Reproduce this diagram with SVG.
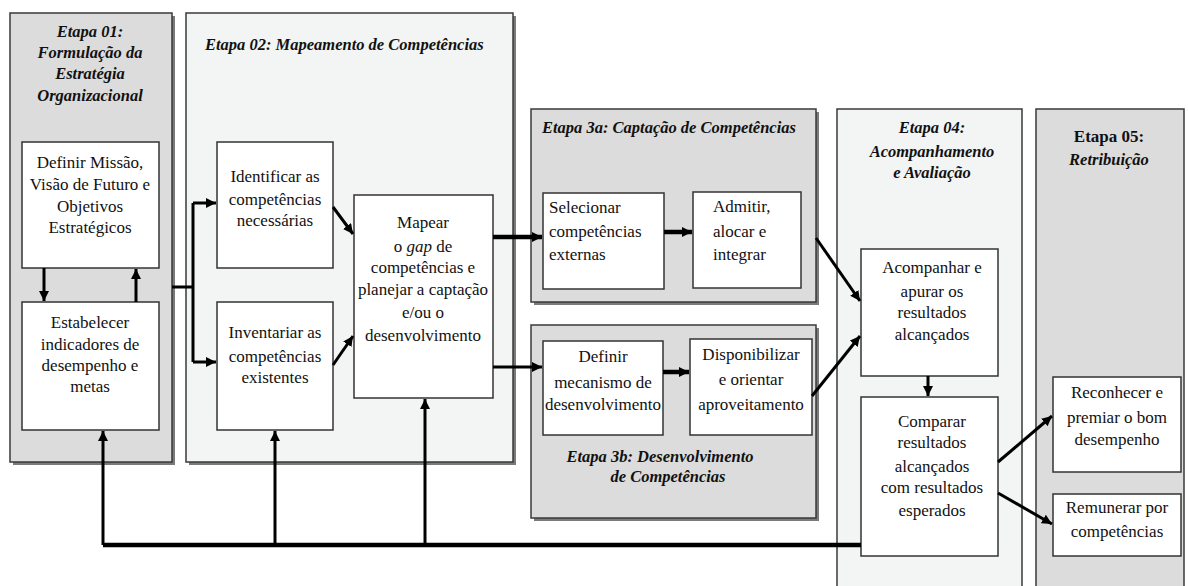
<svg xmlns="http://www.w3.org/2000/svg" width="1188" height="586" viewBox="0 0 1188 586">
<style>
.pd{fill:#dcdcdc;stroke:#3a3a3a;stroke-width:1.5}
.pl{fill:#f3f4f4;stroke:#3a3a3a;stroke-width:1.5}
.sh{fill:#7a7a7a}
.bx{fill:#ffffff;stroke:#333;stroke-width:1.5}
text{font-family:'Liberation Serif','Times New Roman',Times,serif;fill:#111}
.t{font-size:17px;text-anchor:middle}
.tl{font-size:17px}
.h{font-size:16.5px;font-weight:bold;font-style:italic;text-anchor:middle}
.hl{font-size:16.5px;font-weight:bold;font-style:italic}
.c{fill:none;stroke:#000;stroke-width:3}
.ck{fill:none;stroke:#000;stroke-width:4.5}
</style>
<defs>
<marker id="ah" markerUnits="userSpaceOnUse" markerWidth="11" markerHeight="11" refX="10" refY="5" orient="auto">
<path d="M0,0 L10,5 L0,10 z" fill="#000"/>
</marker>
</defs>
<rect width="1188" height="586" fill="#fff"/>

<g id="stage1">
<rect class="sh" x="13" y="16" width="162" height="449"/>
<rect class="pd" x="10" y="13" width="162" height="449"/>
<text class="h" x="90" y="37">Etapa 01:</text>
<text class="h" x="90" y="58">Formulação da</text>
<text class="h" x="90" y="79">Estratégia</text>
<text class="h" x="90" y="101">Organizacional</text>
</g>
<g id="definir-missao">
<rect class="bx" x="22" y="142" width="137" height="126"/>
<text class="t" x="90" y="168">Definir Missão,</text>
<text class="t" x="90" y="190">Visão de Futuro e</text>
<text class="t" x="90" y="212">Objetivos</text>
<text class="t" x="90" y="233">Estratégicos</text>
</g>
<g id="estabelecer">
<rect class="bx" x="22" y="302" width="137" height="128"/>
<text class="t" x="90" y="328">Estabelecer</text>
<text class="t" x="90" y="350">indicadores de</text>
<text class="t" x="90" y="371">desempenho e</text>
<text class="t" x="90" y="392">metas</text>
</g>

<g id="stage2">
<rect class="sh" x="189" y="16" width="327" height="449"/>
<rect class="pl" x="186" y="13" width="327" height="449"/>
<text class="hl" x="205" y="50">Etapa 02: Mapeamento de  Competências</text>
</g>
<g id="identificar">
<rect class="bx" x="217" y="142" width="116" height="126"/>
<text class="t" x="275" y="182">Identificar as</text>
<text class="t" x="275" y="205">competências</text>
<text class="t" x="275" y="226">necessárias</text>
</g>
<g id="inventariar">
<rect class="bx" x="217" y="302" width="116" height="128"/>
<text class="t" x="275" y="338">Inventariar as</text>
<text class="t" x="275" y="362">competências</text>
<text class="t" x="275" y="383">existentes</text>
</g>
<g id="mapear">
<rect class="bx" x="354" y="195" width="139" height="203"/>
<text class="t" x="423" y="228">Mapear</text>
<text class="t" x="423" y="252">o <tspan font-style="italic">gap</tspan> de</text>
<text class="t" x="423" y="273">competências e</text>
<text class="t" x="423" y="295">planejar a captação</text>
<text class="t" x="423" y="318">e/ou o</text>
<text class="t" x="423" y="341">desenvolvimento</text>
</g>

<g id="stage3a">
<rect class="sh" x="534" y="112" width="285" height="193"/>
<rect class="pd" x="531" y="109" width="285" height="193"/>
<text class="hl" x="542" y="133">Etapa 3a: Captação de  Competências</text>
</g>
<g id="selecionar">
<rect class="bx" x="543" y="193" width="121" height="96"/>
<text class="tl" x="549" y="213">Selecionar</text>
<text class="tl" x="549" y="237">competências</text>
<text class="tl" x="549" y="260">externas</text>
</g>
<g id="admitir">
<rect class="bx" x="693" y="192" width="108" height="96"/>
<text class="tl" x="713" y="212">Admitir,</text>
<text class="tl" x="713" y="237">alocar e</text>
<text class="tl" x="713" y="260">integrar</text>
</g>

<g id="stage3b">
<rect class="sh" x="534" y="328" width="285" height="193"/>
<rect class="pd" x="531" y="325" width="285" height="193"/>
<text class="h" x="660" y="462">Etapa 3b: Desenvolvimento</text>
<text class="h" x="668" y="482">de Competências</text>
</g>
<g id="definir-mecanismo">
<rect class="bx" x="543" y="341" width="120" height="94"/>
<text class="t" x="603" y="362">Definir</text>
<text class="t" x="603" y="388">mecanismo de</text>
<text class="t" x="603" y="410">desenvolvimento</text>
</g>
<g id="disponibilizar">
<rect class="bx" x="690" y="339" width="122" height="96"/>
<text class="t" x="751" y="360">Disponibilizar</text>
<text class="t" x="751" y="385">e orientar</text>
<text class="t" x="751" y="410">aproveitamento</text>
</g>

<g id="stage4">
<rect class="pl" x="837" y="109" width="185" height="490"/>
<text class="h" x="932" y="133">Etapa 04:</text>
<text class="h" x="932" y="157">Acompanhamento</text>
<text class="h" x="932" y="178">e Avaliação</text>
</g>
<g id="acompanhar">
<rect class="bx" x="861" y="249" width="137" height="127"/>
<text class="t" x="932" y="273">Acompanhar e</text>
<text class="t" x="932" y="297">apurar os</text>
<text class="t" x="932" y="318">resultados</text>
<text class="t" x="932" y="340">alcançados</text>
</g>
<g id="comparar">
<rect class="bx" x="861" y="397" width="137" height="159"/>
<text class="t" x="932" y="427">Comparar</text>
<text class="t" x="932" y="448">resultados</text>
<text class="t" x="932" y="472">alcançados</text>
<text class="t" x="932" y="493">com resultados</text>
<text class="t" x="932" y="516">esperados</text>
</g>

<g id="stage5">
<rect class="pd" x="1036" y="109" width="148" height="490"/>
<text class="t" x="1109" y="142" font-weight="bold">Etapa 05:</text>
<text class="h" x="1109" y="165">Retribuição</text>
</g>
<g id="reconhecer">
<rect class="bx" x="1053" y="377" width="128" height="95"/>
<text class="t" x="1117" y="398">Reconhecer e</text>
<text class="t" x="1117" y="423">premiar o bom</text>
<text class="t" x="1117" y="445">desempenho</text>
</g>
<g id="remunerar">
<rect class="bx" x="1053" y="494" width="128" height="62"/>
<text class="t" x="1117" y="513">Remunerar por</text>
<text class="t" x="1117" y="537">competências</text>
</g>

<g id="connectors">
<path class="c" d="M44,268 V301" marker-end="url(#ah)"/>
<path class="c" d="M136,302 V269" marker-end="url(#ah)"/>
<path class="c" d="M172,287 H193 M193,203 V362"/>
<path class="c" d="M193,203 H216" marker-end="url(#ah)"/>
<path class="c" d="M193,362 H216" marker-end="url(#ah)"/>
<path class="c" d="M333,207 L353,234" marker-end="url(#ah)"/>
<path class="c" d="M333,365 L353,336" marker-end="url(#ah)"/>
<path class="ck" d="M493,237 H542" marker-end="url(#ah)"/>
<path class="c" d="M493,367 H542" marker-end="url(#ah)"/>
<path class="ck" d="M664,232 H692" marker-end="url(#ah)"/>
<path class="ck" d="M663,372 H689" marker-end="url(#ah)"/>
<path class="c" d="M816,238 L860,301" marker-end="url(#ah)"/>
<path class="c" d="M812,396 L860,336" marker-end="url(#ah)"/>
<path class="c" d="M928,376 V396" marker-end="url(#ah)"/>
<path class="c" d="M998,462 L1052,416" marker-end="url(#ah)"/>
<path class="c" d="M998,493 L1052,524" marker-end="url(#ah)"/>
<path class="ck" d="M861,545 H103"/>
<path class="c" d="M103,545 V431" marker-end="url(#ah)"/>
<path class="c" d="M275,545 V431" marker-end="url(#ah)"/>
<path class="c" d="M425,545 V399" marker-end="url(#ah)"/>
</g>
</svg>
